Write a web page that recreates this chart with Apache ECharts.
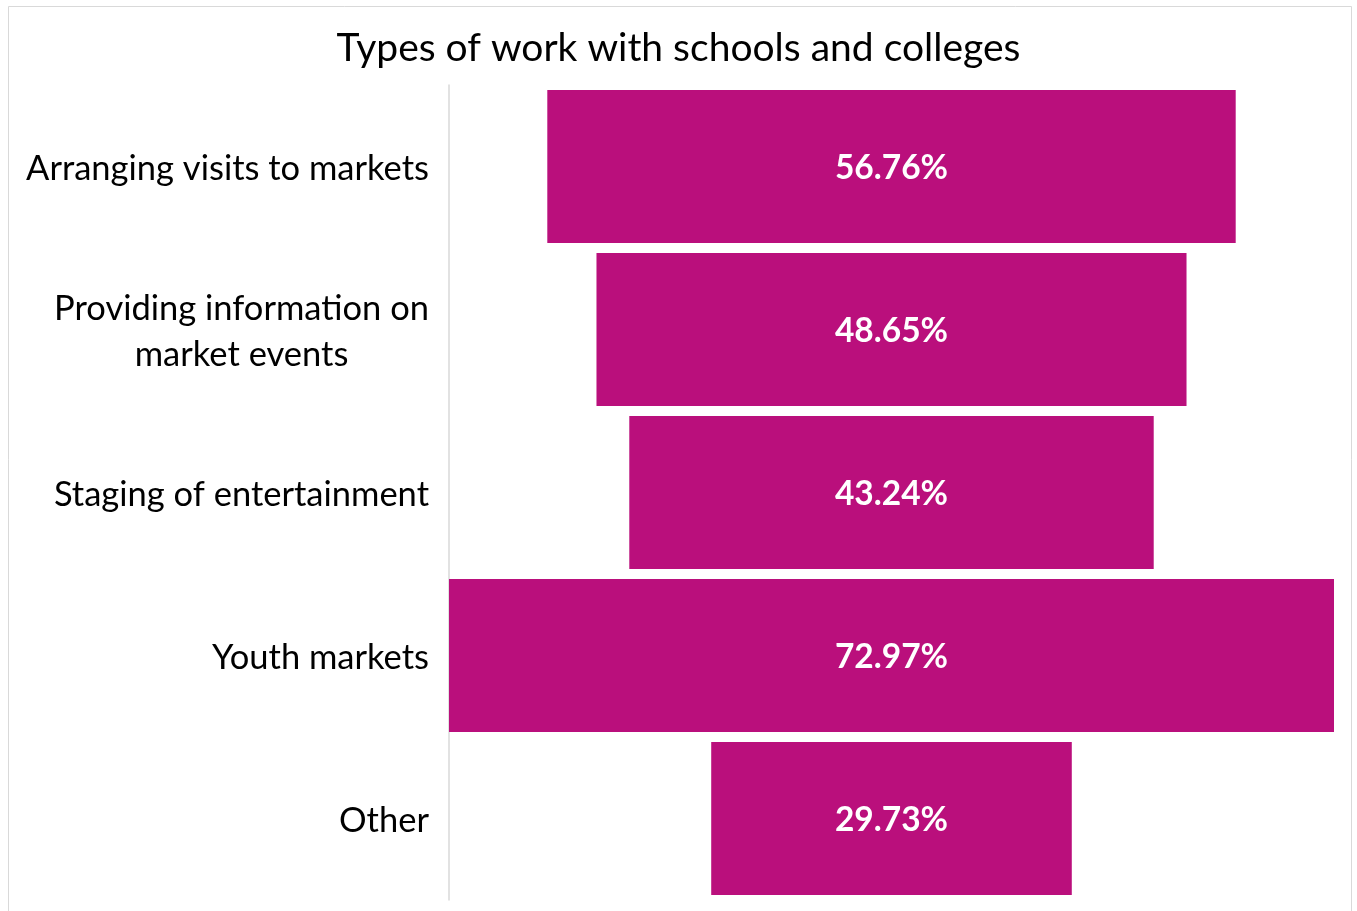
<!DOCTYPE html>
<html>
<head>
<meta charset="utf-8">
<script src="https://cdn.jsdelivr.net/npm/echarts@6/dist/echarts.min.js"></script>
<style>
  html, body { margin: 0; padding: 0; background: #fff; }
  #chart { width: 1357px; height: 911px; }
</style>
</head>
<body>
<div id="chart"></div>
<script>
// Share of respondents doing each type of work with schools and colleges
const categories = [
  'Arranging visits to markets',
  'Providing information on\nmarket events',
  'Staging of entertainment',
  'Youth markets',
  'Other'
];
const values = [56.76, 48.65, 43.24, 72.97, 29.73];

const FONT = 'Lato, "Open Sans", sans-serif';
const BAR_COLOR = '#BA0F7C';

// Funnel look: an invisible spacer pushes each bar so it is centred on the widest one
const maxValue = Math.max(...values);
const spacer = values.map(v => (maxValue - v) / 2);

const chart = echarts.init(document.getElementById('chart'), null, { renderer: 'canvas' });

chart.setOption({
  backgroundColor: '#ffffff',
  animation: false,
  title: {
    text: 'Types of work with schools and colleges',
    left: 'center',
    top: 24,
    textStyle: { fontFamily: FONT, fontSize: 39, fontWeight: 'normal', color: '#000' }
  },
  graphic: [{
    type: 'rect',
    shape: { x: 8.5, y: 6.5, width: 1343, height: 910 },
    style: { fill: 'none', stroke: '#d9d9d9', lineWidth: 1 },
    silent: true,
    z: -1
  }],
  grid: { left: 449, right: 23, top: 85, bottom: 11, containLabel: false },
  xAxis: {
    type: 'value',
    min: 0,
    max: maxValue,
    show: false
  },
  yAxis: {
    type: 'category',
    inverse: true,
    data: categories,
    axisLine: { show: true, lineStyle: { color: '#d9d9d9', width: 1.5 } },
    axisTick: { show: false },
    axisLabel: {
      margin: 20,
      align: 'right',
      padding: [4, 0, 0, 0],
      formatter: v => v.split('\n').map(l => '{c|' + l + '}').join('\n'),
      rich: {
        c: { align: 'center', fontFamily: FONT, fontSize: 34.5, color: '#000', lineHeight: 46 }
      }
    }
  },
  series: [
    {
      type: 'bar',
      stack: 'funnel',
      data: spacer,
      itemStyle: { color: 'transparent' },
      silent: true,
      barCategoryGap: '6.1%'
    },
    {
      type: 'bar',
      stack: 'funnel',
      data: values,
      itemStyle: { color: BAR_COLOR },
      barCategoryGap: '6.1%',
      label: {
        show: true,
        position: 'inside',
        offset: [0, 2],
        formatter: p => p.value.toFixed(2) + '%',
        fontFamily: FONT,
        fontSize: 33.5,
        fontWeight: 'bold',
        color: '#fff'
      }
    }
  ]
});
</script>
</body>
</html>
